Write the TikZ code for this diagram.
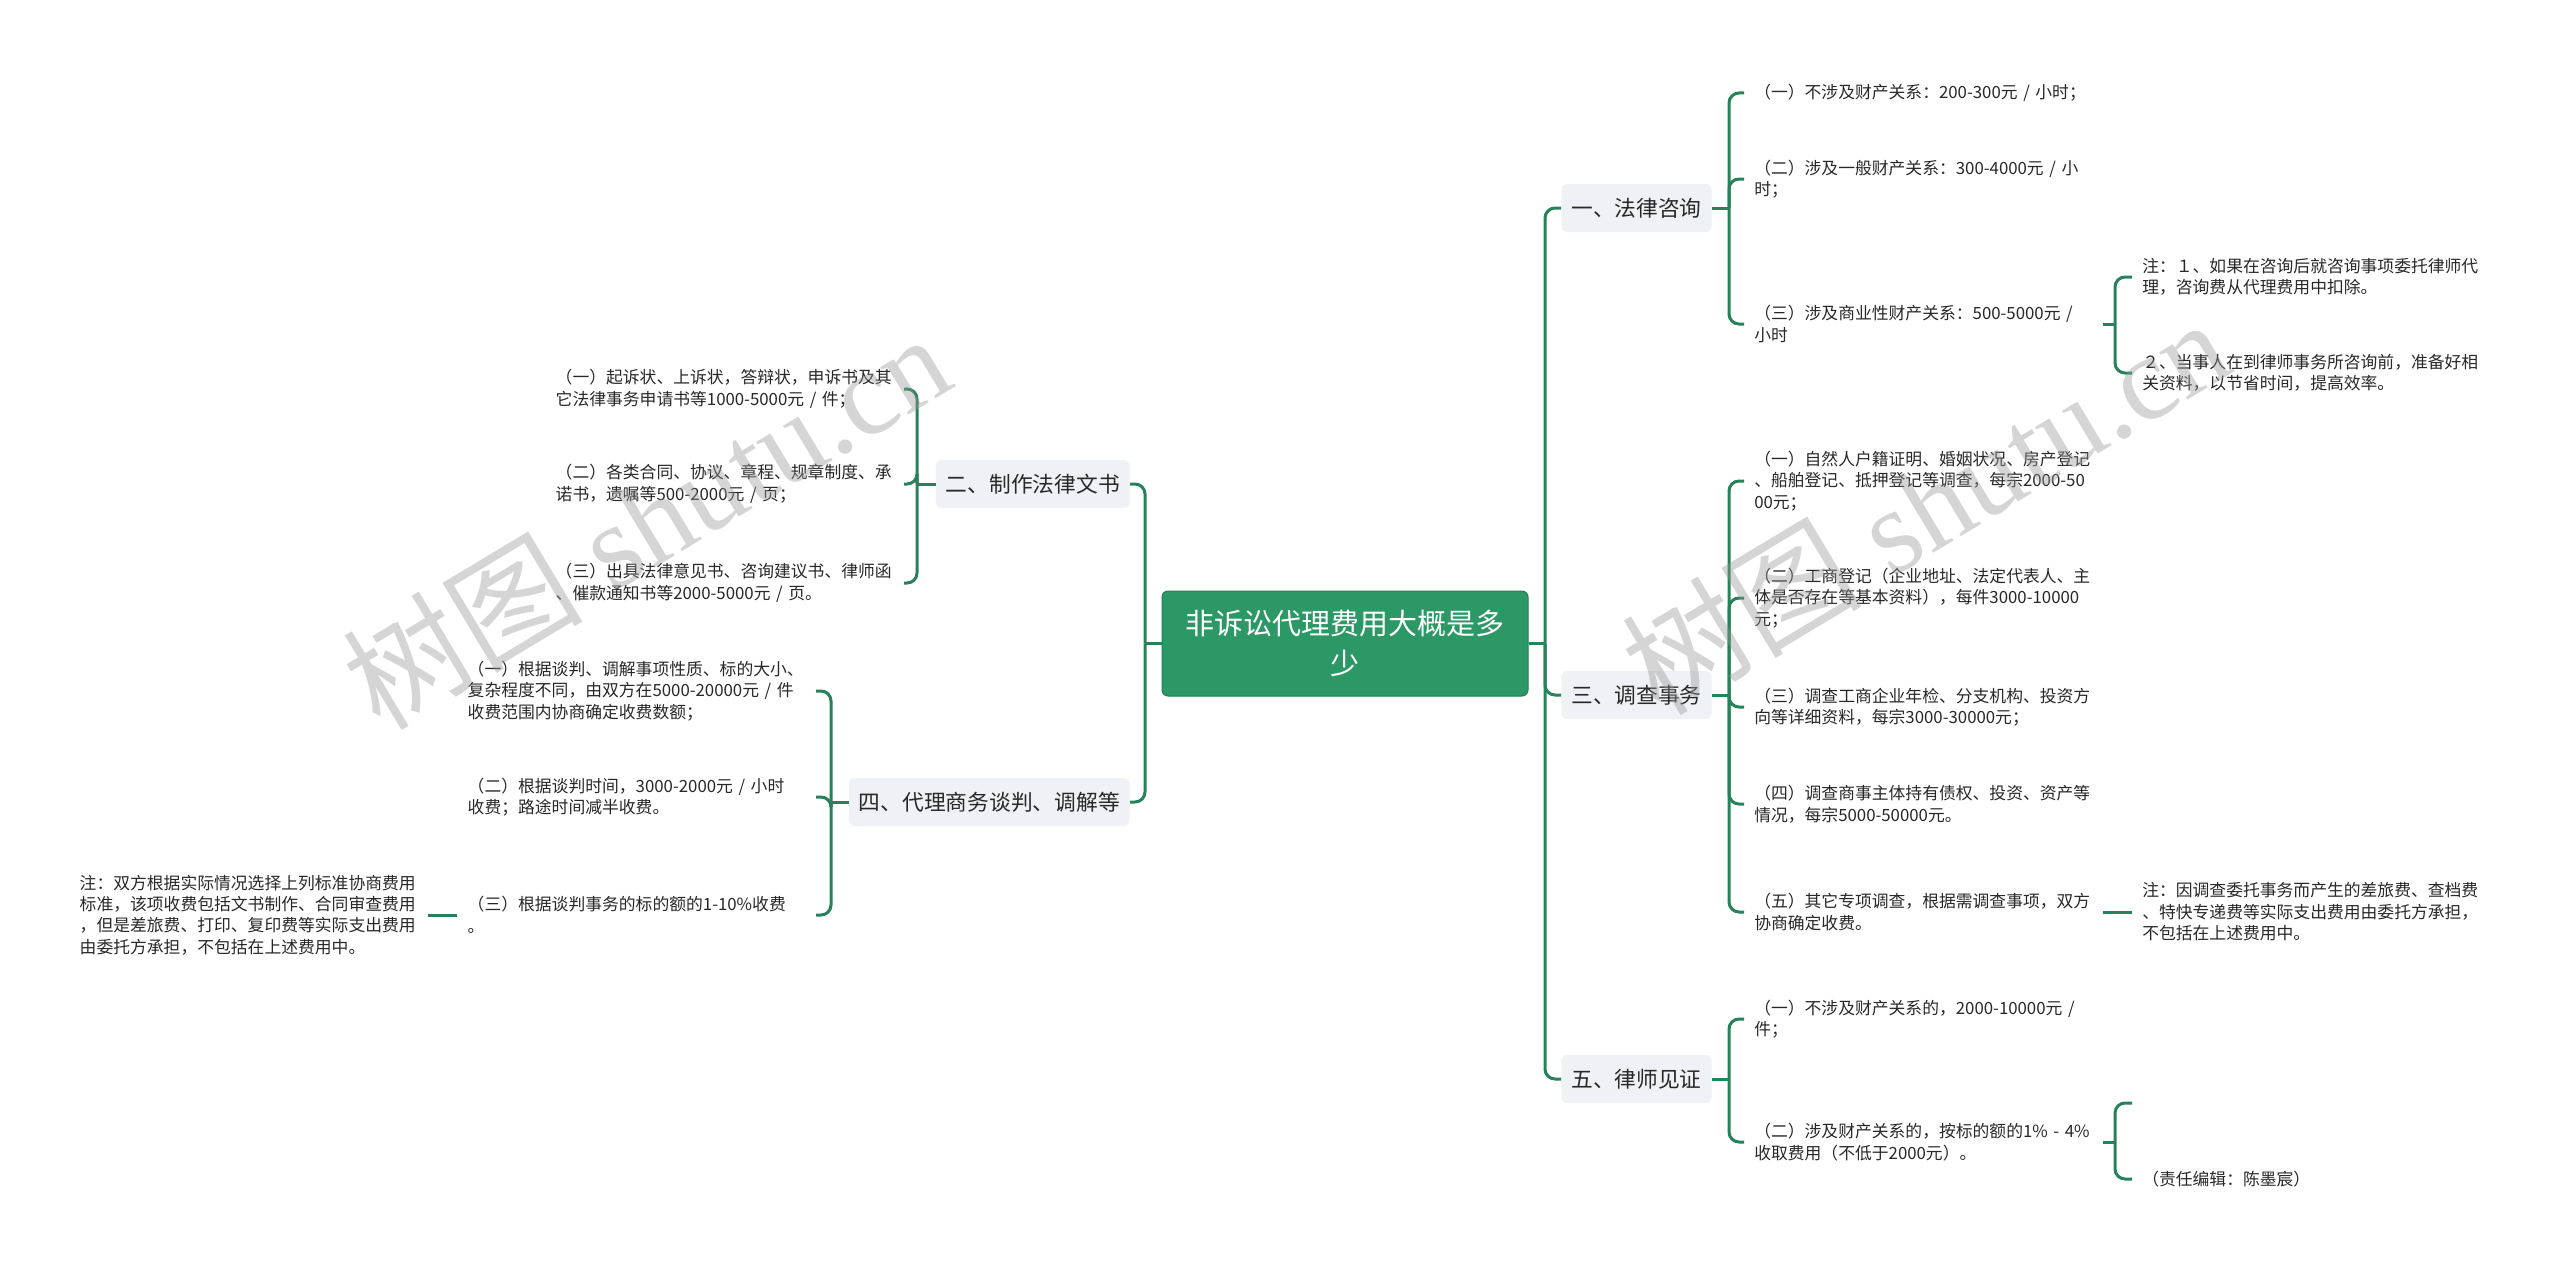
\documentclass[tikz,border=0pt]{standalone}
\usepackage{fontspec}
\setmainfont{Noto Sans CJK SC}
\newfontfamily\wmserif{Liberation Serif}
\exhyphenpenalty=10000
\hyphenpenalty=10000
\definecolor{linegreen}{RGB}{38,130,88}
\definecolor{rootfill}{RGB}{44,152,102}
\definecolor{rootedge}{RGB}{34,128,84}
\definecolor{lvbg}{RGB}{238,241,245}
\definecolor{txt}{RGB}{40,40,40}
\definecolor{wmgray}{RGB}{150,150,150}
\tikzset{
  conn/.style={draw=linegreen, line width=2.25pt, rounded corners=7.5pt},
  leaf/.style={font=\fontsize{12.6pt}{16.1pt}\selectfont, text=txt, text width=253.5pt, align=left, inner xsep=7.5pt, inner ysep=0pt},
  lone/.style={fill=lvbg, rounded corners=4.5pt, font=\fontsize{16.3pt}{20pt}\selectfont, text=txt, minimum height=36pt, inner xsep=7.5pt, inner ysep=0pt},
  rootn/.style={fill=rootfill, draw=rootedge, line width=0.75pt, rounded corners=4.5pt, text=white, font=\fontsize{21.75pt}{30pt}\selectfont, minimum width=274.5pt, minimum height=78.75pt, text width=247.5pt, align=center},
  wmark/.style={text=wmgray, opacity=0.4, font=\fontsize{90pt}{90pt}\selectfont, rotate=31}
}
\begin{document}
\begin{tikzpicture}[x=0.75pt,y=-0.75pt]
\useasboundingbox (0,0) rectangle (2560,1270);
\fill[white] (0,0) rectangle (2560,1270);

% root
\node[rootn] (root) at (1345,643.5) {非诉讼代理费用大概是多\\少};

% level 1 right
\node[lone, anchor=west] (fl) at (1561,208) {一、法律咨询};
\node[lone, anchor=west] (dc) at (1561,695) {三、调查事务};
\node[lone, anchor=west] (ls) at (1561,1079) {五、律师见证};
% level 1 left
\node[lone, anchor=east] (wd) at (1130,484) {二、制作法律文书};
\node[lone, anchor=east] (tp) at (1130,802) {四、代理商务谈判、调解等};

% junctions
\coordinate (rj) at (1545,643.5);
\coordinate (lj) at (1145,643.5);
\coordinate (flj) at (1729,208);
\coordinate (dcj) at (1729,695);
\coordinate (lsj) at (1729,1079);
\coordinate (wdj) at (917,484);
\coordinate (tpj) at (831,802);
\coordinate (a3j) at (2115,324);
\coordinate (c2j) at (2115,1142);
\coordinate (ce) at (2132,1103);

% right leaves
\node[leaf, anchor=west] (a1) at (1744,93) {（一）不涉及财产关系：200-300元~/~小时；};
\node[leaf, anchor=west] (a2) at (1744,179) {（二）涉及一般财产关系：300-4000元~/~小\\时；};
\node[leaf, anchor=west] (a3) at (1744,324) {（三）涉及商业性财产关系：500-5000元~/\\小时};
\node[leaf, anchor=west] (n1) at (2132,277) {注：１、如果在咨询后就咨询事项委托律师代\\理，咨询费从代理费用中扣除。};
\node[leaf, anchor=west] (n2) at (2132,373) {２、当事人在到律师事务所咨询前，准备好相\\关资料，以节省时间，提高效率。};

\node[leaf, anchor=west] (b1) at (1744,481) {（一）自然人户籍证明、婚姻状况、房产登记\\、船舶登记、抵押登记等调查，每宗2000-50\\00元；};
\node[leaf, anchor=west] (b2) at (1744,598) {（二）工商登记（企业地址、法定代表人、主\\体是否存在等基本资料），每件3000-10000\\元；};
\node[leaf, anchor=west] (b3) at (1744,707) {（三）调查工商企业年检、分支机构、投资方\\向等详细资料，每宗3000-30000元；};
\node[leaf, anchor=west] (b4) at (1744,804) {（四）调查商事主体持有债权、投资、资产等\\情况，每宗5000-50000元。};
\node[leaf, anchor=west] (b5) at (1744,912) {（五）其它专项调查，根据需调查事项，双方\\协商确定收费。};
\node[leaf, anchor=west] (bn) at (2132,912) {注：因调查委托事务而产生的差旅费、查档费\\、特快专递费等实际支出费用由委托方承担，\\不包括在上述费用中。};

\node[leaf, anchor=west] (c1) at (1744,1019) {（一）不涉及财产关系的，2000-10000元~/\\件；};
\node[leaf, anchor=west] (c2) at (1744,1142) {（二）涉及财产关系的，按标的额的1\%~-~4\%\\收取费用（不低于2000元）。};
\node[leaf, anchor=west] (cb) at (2132,1179) {（责任编辑：陈墨宸）};

% left leaves
\node[leaf, anchor=east] (d1) at (904,389) {（一）起诉状、上诉状，答辩状，申诉书及其\\它法律事务申请书等1000-5000元~/~件；};
\node[leaf, anchor=east] (d2) at (904,484) {（二）各类合同、协议、章程、规章制度、承\\诺书，遗嘱等500-2000元~/~页；};
\node[leaf, anchor=east] (d3) at (904,583) {（三）出具法律意见书、咨询建议书、律师函\\、催款通知书等2000-5000元~/~页。};

\node[leaf, anchor=east] (e1) at (816,691) {（一）根据谈判、调解事项性质、标的大小、\\复杂程度不同，由双方在5000-20000元~/~件\\收费范围内协商确定收费数额；};
\node[leaf, anchor=east] (e2) at (816,797) {（二）根据谈判时间，3000-2000元~/~小时\\收费；路途时间减半收费。};
\node[leaf, anchor=east] (e3) at (816,915) {（三）根据谈判事务的标的额的1-10\%收费\\。};
\node[leaf, anchor=east] (en) at (428,915) {注：双方根据实际情况选择上列标准协商费用\\标准，该项收费包括文书制作、合同审查费用\\，但是差旅费、打印、复印费等实际支出费用\\由委托方承担，不包括在上述费用中。};

% connectors: root to level 1
\draw[conn] (root.east) -- (rj);
\draw[conn] (rj) |- (fl.west);
\draw[conn] (rj) |- (dc.west);
\draw[conn] (rj) |- (ls.west);
\draw[conn] (root.west) -- (lj);
\draw[conn] (lj) |- (wd.east);
\draw[conn] (lj) |- (tp.east);

% level 1 to leaves (right)
\draw[conn] (fl.east) -- (flj);
\draw[conn] (flj) |- (a1.west);
\draw[conn] (flj) |- (a2.west);
\draw[conn] (flj) |- (a3.west);
\draw[conn] (a3.east) -- (a3j);
\draw[conn] (a3j) |- (n1.west);
\draw[conn] (a3j) |- (n2.west);

\draw[conn] (dc.east) -- (dcj);
\draw[conn] (dcj) |- (b1.west);
\draw[conn] (dcj) |- (b2.west);
\draw[conn] (dcj) |- (b3.west);
\draw[conn] (dcj) |- (b4.west);
\draw[conn] (dcj) |- (b5.west);
\draw[conn] (b5.east) -- (bn.west);

\draw[conn] (ls.east) -- (lsj);
\draw[conn] (lsj) |- (c1.west);
\draw[conn] (lsj) |- (c2.west);
\draw[conn] (c2.east) -- (c2j);
\draw[conn] (c2j) |- (ce);
\draw[conn] (c2j) |- (cb.west);

% level 1 to leaves (left)
\draw[conn] (wd.west) -- (wdj);
\draw[conn] (wdj) |- (d1.east);
\draw[conn] (wdj) |- (d2.east);
\draw[conn] (wdj) |- (d3.east);
\draw[conn] (tp.west) -- (tpj);
\draw[conn] (tpj) |- (e1.east);
\draw[conn] (tpj) |- (e2.east);
\draw[conn] (tpj) |- (e3.east);
\draw[conn] (e3.west) -- (en.east);

% watermarks
\node[wmark] (wm1) at (646,520) {树图{\wmserif\ shutu.cn}};
\node[wmark] (wm2) at (1925,505) {树图{\wmserif\ shutu.cn}};
\end{tikzpicture}
\end{document}
